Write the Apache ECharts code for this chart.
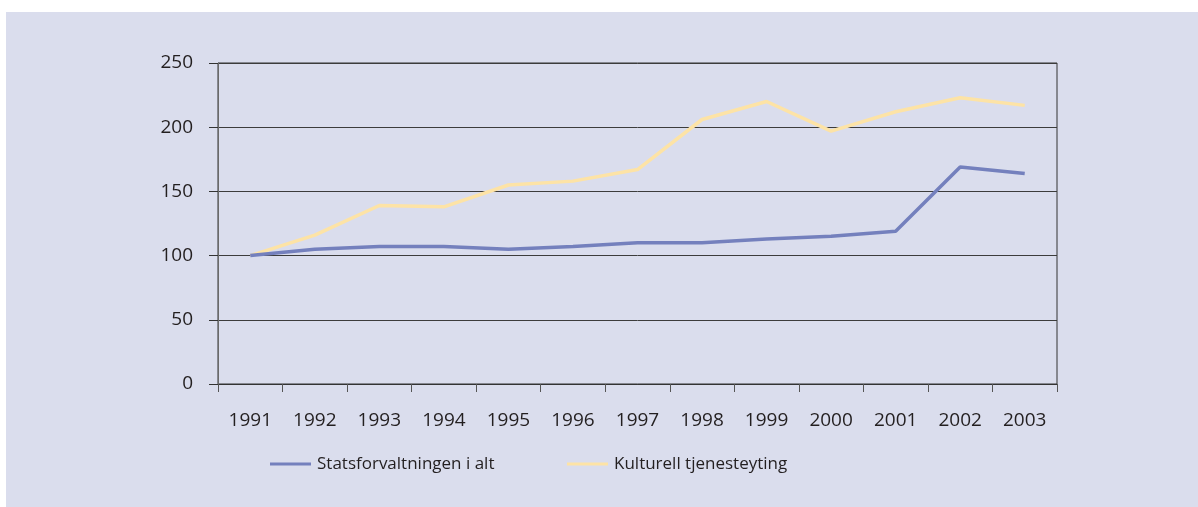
<!DOCTYPE html>
<html>
<head>
<meta charset="utf-8">
<script src="https://cdn.jsdelivr.net/npm/echarts@6/dist/echarts.min.js"></script>
<style>
  html, body { margin: 0; padding: 0; background: #ffffff; width: 1198px; height: 507px; overflow: hidden; }
  #chart { position: absolute; left: 6px; top: 12px; width: 1192px; height: 495px; background: #dadded; }
</style>
</head>
<body>
<div id="chart"></div>
<script>
const years = ['1991','1992','1993','1994','1995','1996','1997','1998','1999','2000','2001','2002','2003'];
const statsforvaltningen = [100, 105, 107, 107, 105, 107, 110, 110, 113, 115, 119, 169, 164];
const kulturell = [100, 116, 139, 138, 155, 158, 167, 206, 220, 197, 212, 223, 217];
const seriesNames = ['Statsforvaltningen i alt', 'Kulturell tjenesteyting'];
const seriesColors = ['#7480bd', '#fde3a6'];

const chart = echarts.init(document.getElementById('chart'), null, { renderer: 'canvas' });
const font = '"Open Sans", "Noto Sans", sans-serif';
const textColor = '#231f20';

chart.setOption({
  animation: false,
  backgroundColor: 'transparent',
  textStyle: { fontFamily: font },
  grid: {
    left: 212, right: 141, top: 51, bottom: 123,
    show: true, borderColor: '#333333', borderWidth: 1, backgroundColor: 'transparent'
  },
  legend: [
    {
      data: [seriesNames[0]], left: 259, top: 437,
      icon: 'rect', itemWidth: 41, itemHeight: 3, itemGap: 0,
      textStyle: { fontFamily: font, fontSize: 17, color: textColor, lineHeight: 20, padding: [0, 0, 0, 1] }
    },
    {
      data: [seriesNames[1]], left: 556, top: 437,
      icon: 'rect', itemWidth: 41, itemHeight: 3, itemGap: 0,
      textStyle: { fontFamily: font, fontSize: 17, color: textColor, lineHeight: 20, padding: [0, 0, 0, 1] }
    }
  ],
  xAxis: {
    type: 'category',
    data: years,
    boundaryGap: true,
    axisLine: { show: true, lineStyle: { color: '#333333', width: 1 } },
    axisTick: { show: true, length: 8, lineStyle: { color: '#555555' } },
    axisLabel: { color: textColor, fontSize: 19, margin: 27, fontFamily: font },
    splitLine: { show: false }
  },
  yAxis: {
    type: 'value',
    min: 0, max: 250, interval: 50,
    axisLine: { show: true, lineStyle: { color: '#6a6a6a', width: 1 } },
    axisTick: { show: true, length: 9, lineStyle: { color: '#333333' } },
    axisLabel: { color: textColor, fontSize: 19, margin: 25, fontFamily: font },
    splitLine: { show: true, lineStyle: { color: '#3c3c3c', width: 1 } }
  },
  series: [
    {
      name: seriesNames[0], type: 'line', data: statsforvaltningen,
      symbol: 'none', smooth: false,
      lineStyle: { color: seriesColors[0], width: 3.5 },
      itemStyle: { color: seriesColors[0] }, z: 3
    },
    {
      name: seriesNames[1], type: 'line', data: kulturell,
      symbol: 'none', smooth: false,
      lineStyle: { color: seriesColors[1], width: 3.5 },
      itemStyle: { color: seriesColors[1] }, z: 2
    }
  ]
});
</script>
</body>
</html>
